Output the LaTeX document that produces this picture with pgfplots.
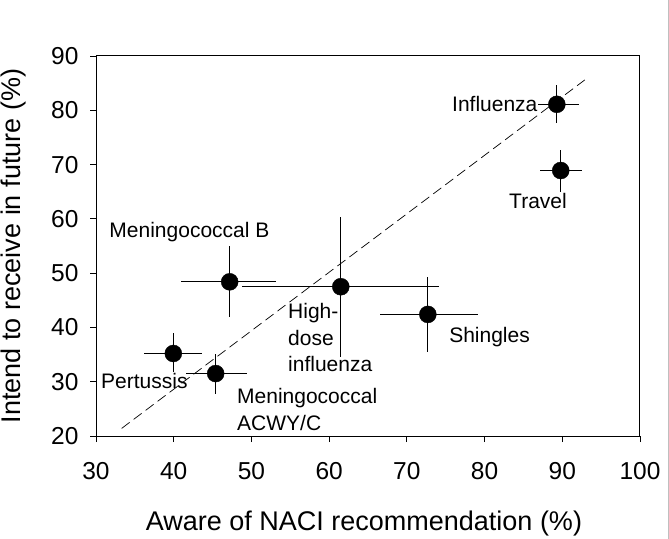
\documentclass[border=0pt]{standalone}
\usepackage{pgfplots}
\pgfplotsset{compat=1.18}
\usepackage{fontspec}
\setmainfont{Liberation Sans}
\begin{document}
\begin{tikzpicture}
\path[use as bounding box] (0,0) rectangle (669bp,539bp);
\draw[black!25, line width=0.8bp] (668bp,0) -- (668bp,539bp);
\begin{axis}[
  at={(96bp,103bp)}, anchor=south west,
  scale only axis, width=544bp, height=380bp,
  xmin=30, xmax=100, ymin=20, ymax=90,
  xtick={30,40,...,100}, ytick={20,30,...,90},
  tick align=outside, xtick pos=bottom, ytick pos=left,
  major tick length=6bp,
  axis line style={line width=1bp},
  every tick/.style={black, line width=0.9bp},
  /pgf/number format/assume math mode=true,
  tick label style={font=\fontsize{24.5bp}{28bp}\selectfont},
  xticklabel style={yshift=-17bp},
  yticklabel style={xshift=-8bp},
  label style={font=\fontsize{27bp}{32bp}\selectfont},
  xlabel={Aware of NACI recommendation (\%)},
  ylabel={Intend to receive in future (\%)},
  xlabel style={at={(axis description cs:0.4926,-0.2474)}, anchor=base},
  ylabel style={at={(axis description cs:-0.1397,0.5)}, anchor=base, rotate=0},
]
% regression line
\addplot[black, line width=0.7bp, dash pattern=on 10bp off 5bp, forget plot] coordinates {(33.3,21.4) (92.9,85.6)};
% data with asymmetric error bars
\addplot[only marks, mark=*, mark size=8.5bp, mark options={fill=black, draw=black},
  error bars/.cd, x dir=both, y dir=both, x explicit, y explicit,
  error mark=none, error bar style={black, line width=0.8bp}]
coordinates {
  (39.95,35.2) += (3.65,3.7) -= (3.75,3.5)
  (45.4,31.5) += (4.0,3.6) -= (3.8,3.8)
  (47.2,48.4) += (6.0,6.6) -= (6.2,6.4)
  (61.5,47.5) += (12.6,12.9) -= (12.7,12.9)
  (72.7,42.4) += (6.4,6.9) -= (6.2,6.9)
  (89.3,81.1) += (2.8,3.5) -= (2.4,3.4)
  (89.8,68.9) += (2.7,3.8) -= (2.7,3.9)
};
\begin{scope}[every node/.style={font=\fontsize{21bp}{26.5bp}\selectfont, inner sep=0pt}]
\node[anchor=base west] at (axis cs:31.71,56.6) {Meningococcal B};
\node[anchor=base west] at (axis cs:75.81,79.74) {Influenza};
\node[anchor=base west] at (axis cs:83.15,61.94) {Travel};
\node[anchor=base west] at (axis cs:75.43,37.3) {Shingles};
\node[anchor=base west] at (axis cs:30.64,28.79) {Pertussis};
\node[anchor=base west, align=left] at (axis cs:48.14,21.1) {Meningococcal\\ACWY/C};
\node[anchor=base west, align=left] at (axis cs:54.71,31.84) {High-\\dose\\influenza};
\end{scope}
\end{axis}
\end{tikzpicture}
\end{document}
